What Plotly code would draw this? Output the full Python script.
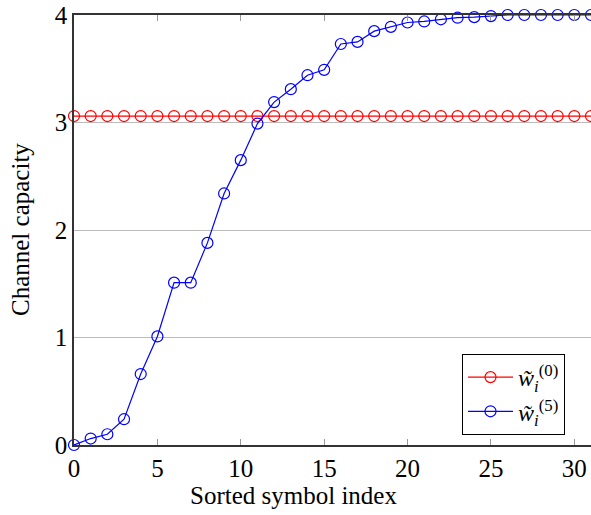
import plotly.graph_objects as go

x_idx = list(range(32))
w0 = [3.06] * 32
w5 = [0.0, 0.06, 0.10, 0.24, 0.66, 1.01, 1.51, 1.51, 1.88, 2.34, 2.65, 2.99,
      3.19, 3.31, 3.44, 3.49, 3.73, 3.75, 3.85, 3.89, 3.93, 3.94, 3.96, 3.975,
      3.98, 3.99, 4.0, 4.0, 4.0, 4.0, 4.0, 4.0]
x_ticks = [0, 5, 10, 15, 20, 25, 30]
y_ticks = [0, 1, 2, 3, 4]

FONT = "Liberation Serif"

fig = go.Figure()
fig.add_trace(go.Scatter(
    x=x_idx, y=w0, mode="lines+markers", cliponaxis=False,
    line=dict(color="red", width=1.2),
    marker=dict(symbol="circle-open", size=11, color="red", line=dict(width=1.2)),
    name="<i>w̃</i><sub><i>i</i></sub><sup>(0)</sup>"))
fig.add_trace(go.Scatter(
    x=x_idx, y=w5, mode="lines+markers", cliponaxis=False,
    line=dict(color="blue", width=1.2),
    marker=dict(symbol="circle-open", size=11, color="blue", line=dict(width=1.2)),
    name="<i>w̃</i><sub><i>i</i></sub><sup>(5)</sup>"))

plot_w = 591 - 74
plot_h = 515 - 15 - 70

fig.update_layout(
    width=591, height=515,
    margin=dict(l=74, r=0, t=15, b=70),
    paper_bgcolor="white", plot_bgcolor="white",
    font=dict(family=FONT, size=25, color="black"),
    showlegend=True,
    legend=dict(x=(462 - 74) / plot_w, y=(445 - 354) / plot_h,
                xanchor="left", yanchor="top", itemwidth=45,
                bgcolor="white", bordercolor="black", borderwidth=1,
                font=dict(family=FONT, size=24), tracegroupgap=0),
    xaxis=dict(range=[0, 31], tickvals=x_ticks, ticks="inside", ticklen=6,
               tickcolor="#999", showgrid=False, zeroline=False, automargin=False,
               showline=True, linecolor="#333", linewidth=1.5, mirror="ticks",
               tickfont=dict(size=25)),
    yaxis=dict(range=[0, 4], tickvals=y_ticks, ticks="", showgrid=True,
               gridcolor="#bbb", gridwidth=1, zeroline=False, automargin=False,
               showline=True, linecolor="#333", linewidth=1.5, mirror=True,
               tickfont=dict(size=25)),
    annotations=[
        dict(text="Sorted symbol index", xref="paper", yref="paper",
             x=(293 - 74) / plot_w, y=(445 - 495) / plot_h,
             xanchor="center", yanchor="middle", showarrow=False,
             font=dict(size=25)),
        dict(text="Channel capacity", xref="paper", yref="paper",
             x=(20 - 74) / plot_w, y=(445 - 230) / plot_h,
             xanchor="center", yanchor="middle", showarrow=False,
             textangle=-90, font=dict(size=25)),
    ],
)

fig.write_html("out.html", config={"displayModeBar": False},
               post_script="document.body.style.margin='0';")
